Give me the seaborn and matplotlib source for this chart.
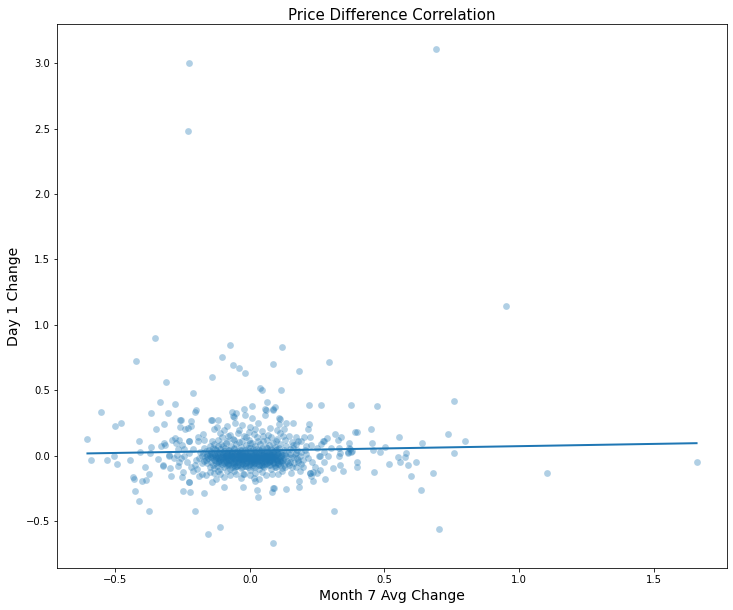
import matplotlib
matplotlib.use('Agg')
import matplotlib.pyplot as plt
import pandas as pd
import seaborn as sns

# values as (month 7 avg change, day 1 change)
outliers = [(-0.225, 3.0), (-0.23, 2.48), (0.69, 3.11), (0.95, 1.14), (1.66, -0.05), (1.105, -0.13),
            (0.759, 0.42), (0.085, -0.67), (0.703, -0.563), (0.312, -0.424), (-0.155, -0.60), (-0.11, -0.548)]

left_points = [(-0.352, 0.90), (-0.422, 0.727), (-0.311, 0.566), (-0.21, 0.482), (-0.14, 0.604), (-0.103, 0.757),
               (-0.073, 0.849), (-0.552, 0.337), (-0.50, 0.23), (-0.481, 0.246), (-0.604, 0.124), (-0.589, -0.037),
               (-0.53, -0.037), (-0.504, -0.006), (-0.496, -0.067), (-0.444, -0.037), (-0.411, 0.108), (-0.407, 0.024),
               (-0.366, 0.063), (-0.37, 0.017), (-0.389, -0.09), (-0.374, -0.143), (-0.433, -0.166), (-0.43, -0.179),
               (-0.40, -0.197), (-0.385, -0.189), (-0.426, -0.273), (-0.411, -0.35), (-0.374, -0.426), (-0.203, -0.426),
               (-0.17, -0.289), (-0.248, -0.273), (-0.222, -0.281), (-0.225, -0.20), (-0.226, -0.205), (-0.292, -0.159),
               (-0.251, -0.166), (-0.248, -0.128), (-0.296, -0.098), (-0.322, -0.083), (-0.322, -0.075), (-0.266, -0.083),
               (-0.34, -0.029), (-0.30, 0.0), (-0.302, 0.005), (-0.281, -0.021), (-0.263, -0.052), (-0.272, 0.003),
               (-0.245, 0.0), (-0.258, -0.02), (-0.329, 0.07), (-0.318, 0.10), (-0.315, 0.078), (-0.288, 0.116),
               (-0.277, 0.131), (-0.274, 0.093), (-0.263, 0.116), (-0.251, 0.078), (-0.266, 0.047), (-0.244, 0.047),
               (-0.225, 0.111), (-0.228, 0.115), (-0.192, 0.146), (-0.176, 0.162), (-0.17, 0.116), (-0.192, 0.108),
               (-0.14, 0.108), (-0.348, 0.207), (-0.318, 0.238), (-0.366, 0.322), (-0.333, 0.406), (-0.303, 0.322),
               (-0.277, 0.398), (-0.259, 0.215), (-0.26, 0.269), (-0.258, 0.275), (-0.24, 0.20), (-0.229, 0.208),
               (-0.218, 0.223), (-0.218, 0.261), (-0.203, 0.33), (-0.199, 0.345), (-0.144, 0.276), (-0.142, 0.27),
               (-0.118, 0.269), (-0.133, 0.20), (-0.121, 0.215), (-0.095, 0.192), (-0.084, 0.23), (-0.08, 0.15),
               (-0.21, -0.12), (-0.195, -0.10), (-0.18, -0.14), (-0.206, -0.07), (-0.19, -0.155), (-0.22, -0.09),
               (-0.165, -0.15), (-0.15, -0.125), (-0.21, 0.05), (-0.225, 0.02), (-0.20, -0.03), (-0.235, -0.05)]

top_points = [(-0.062, 0.689), (-0.04, 0.666), (-0.017, 0.635), (0.12, 0.834), (0.087, 0.704), (0.183, 0.65),
              (0.294, 0.719), (0.038, 0.52), (0.046, 0.505), (0.116, 0.498), (0.009, 0.383), (0.064, 0.406),
              (0.22, 0.39), (0.265, 0.39), (0.376, 0.39), (-0.021, 0.36), (-0.067, 0.337), (-0.051, 0.322),
              (-0.062, 0.299), (-0.06, 0.293), (-0.017, 0.307), (0.057, 0.355), (0.059, 0.345), (0.094, 0.368),
              (0.087, 0.353), (0.084, 0.35), (0.057, 0.314), (0.109, 0.284), (0.112, 0.278), (0.009, 0.284),
              (0.109, 0.24), (0.135, 0.253), (0.161, 0.253), (0.22, 0.238), (0.217, 0.20), (0.224, 0.146),
              (-0.055, 0.25), (-0.03, 0.235), (0.0, 0.22), (0.03, 0.25), (-0.005, 0.18), (0.02, 0.205),
              (0.045, 0.19), (0.075, 0.21), (0.10, 0.195), (0.125, 0.20), (-0.11, 0.17), (-0.04, 0.195)]

right_points = [(0.317, 0.162), (0.339, 0.146), (0.328, 0.116), (0.287, 0.131), (0.272, 0.108), (0.275, 0.112),
                (0.265, 0.085), (0.369, 0.10), (0.391, 0.177), (0.398, 0.177), (0.179, 0.108), (0.209, 0.07),
                (0.228, 0.078), (0.25, 0.055), (0.302, 0.055), (0.332, 0.055), (0.365, 0.024), (0.38, 0.032),
                (0.332, -0.006), (0.276, 0.024), (0.291, -0.006), (0.276, -0.052), (0.257, -0.006), (0.26, 0.0),
                (0.309, -0.098), (0.335, -0.075), (0.346, -0.121), (0.398, -0.052), (0.398, -0.09), (0.28, -0.182),
                (0.261, -0.113), (0.25, -0.136), (0.224, -0.136), (0.222, -0.13), (0.235, -0.128), (0.235, -0.197),
                (0.228, -0.159), (0.183, -0.197), (0.183, -0.243), (0.135, -0.258), (0.087, -0.25), (0.09, -0.245),
                (0.083, -0.281), (0.083, -0.144), (0.105, -0.144), (0.12, -0.121), (0.153, -0.136), (0.187, -0.121),
                (0.198, -0.09), (0.179, -0.052), (0.198, -0.037), (0.231, -0.052), (0.473, 0.376), (0.45, 0.20),
                (0.554, 0.139), (0.736, 0.169), (0.80, 0.108), (0.64, 0.093), (0.759, 0.017), (0.454, 0.10),
                (0.502, 0.063), (0.458, 0.04), (0.484, 0.024), (0.369, 0.055), (0.371, 0.05), (0.365, 0.017),
                (0.376, 0.024), (0.334, 0.019), (0.462, -0.128), (0.517, -0.067), (0.551, -0.014), (0.558, -0.052),
                (0.577, -0.014), (0.58, 0.017), (0.588, -0.075), (0.618, -0.052), (0.599, -0.159), (0.681, -0.136),
                (0.636, -0.266), (0.16, 0.06), (0.19, 0.03), (0.21, 0.01), (0.175, -0.015), (0.215, -0.02),
                (0.155, -0.09), (0.17, 0.085), (0.24, -0.09), (0.205, 0.045)]

bottom_points = [(-0.025, -0.243), (-0.095, -0.243), (-0.14, -0.205), (-0.125, -0.182), (0.027, -0.266), (0.031, -0.319),
                 (0.02, -0.197), (-0.025, -0.141), (-0.022, -0.137), (-0.073, -0.151), (-0.051, -0.144), (-0.095, -0.166),
                 (-0.11, -0.144), (-0.085, -0.12), (-0.06, -0.115), (-0.035, -0.17), (0.0, -0.15), (0.02, -0.135),
                 (0.045, -0.125), (0.06, -0.15), (0.015, -0.17), (-0.12, -0.115), (-0.135, -0.13), (0.035, -0.18)]

core_points = [
    (-0.175, 0.02), (-0.168, -0.01), (-0.172, -0.04), (-0.165, 0.035), (-0.16, -0.06), (-0.158, 0.01), (-0.155, -0.02), (-0.152, 0.045),
    (-0.15, -0.085), (-0.148, 0.0), (-0.146, -0.045), (-0.143, 0.03), (-0.14, -0.015), (-0.138, 0.06), (-0.136, -0.07), (-0.134, -0.095),
    (-0.132, 0.015), (-0.13, -0.03), (-0.128, 0.04), (-0.126, -0.055), (-0.124, 0.005), (-0.122, -0.08), (-0.12, 0.075), (-0.118, -0.02),
    (-0.116, 0.025), (-0.114, -0.04), (-0.112, 0.05), (-0.11, -0.105), (-0.108, -0.01), (-0.106, 0.09), (-0.104, -0.065), (-0.102, 0.012),
    (-0.1, -0.03), (-0.098, 0.035), (-0.096, -0.085), (-0.094, 0.0), (-0.092, 0.06), (-0.09, -0.05), (-0.088, 0.02), (-0.086, -0.015),
    (-0.084, 0.11), (-0.082, -0.075), (-0.08, 0.042), (-0.078, -0.035), (-0.076, 0.008), (-0.074, -0.1), (-0.072, 0.07), (-0.07, -0.02),
    (-0.068, 0.028), (-0.066, -0.058), (-0.064, 0.13), (-0.062, -0.005), (-0.06, 0.05), (-0.058, -0.042), (-0.056, -0.09), (-0.054, 0.018),
    (-0.052, 0.085), (-0.05, -0.028), (-0.048, 0.038), (-0.046, -0.07), (-0.044, 0.003), (-0.042, 0.105), (-0.04, -0.052), (-0.038, 0.022),
    (-0.036, -0.012), (-0.034, 0.065), (-0.032, -0.095), (-0.03, -0.035), (-0.028, 0.045), (-0.026, 0.0), (-0.024, -0.062), (-0.022, 0.15),
    (-0.02, 0.025), (-0.018, -0.02), (-0.016, 0.08), (-0.014, -0.08), (-0.012, 0.01), (-0.01, -0.045), (-0.008, 0.055), (-0.006, -0.005),
    (-0.004, 0.12), (-0.002, -0.03), (0.0, 0.035), (0.002, -0.11), (0.004, -0.06), (0.006, 0.015), (0.008, 0.095), (0.01, -0.018),
    (0.012, 0.048), (0.014, -0.04), (0.016, 0.005), (0.018, -0.085), (0.02, 0.07), (0.022, -0.025), (0.024, 0.028), (0.026, -0.055),
    (0.028, 0.14), (0.03, -0.008), (0.032, 0.04), (0.034, -0.1), (0.036, -0.035), (0.038, 0.085), (0.04, 0.012), (0.042, -0.068),
    (0.044, 0.055), (0.046, -0.015), (0.048, 0.11), (0.05, -0.045), (0.052, 0.022), (0.054, -0.09), (0.056, 0.0), (0.058, 0.065),
    (0.06, -0.03), (0.062, 0.035), (0.064, -0.06), (0.066, 0.16), (0.068, -0.01), (0.07, 0.08), (0.072, -0.075), (0.074, 0.018),
    (0.076, -0.04), (0.078, 0.05), (0.08, -0.105), (0.082, 0.005), (0.084, 0.1), (0.086, -0.022), (0.088, 0.03), (0.09, -0.055),
    (0.092, 0.068), (0.094, -0.01), (0.096, -0.085), (0.098, 0.04), (0.1, 0.125), (0.102, -0.035), (0.104, 0.012), (0.106, -0.065),
    (0.108, 0.058), (0.11, -0.015), (0.112, 0.09), (0.114, -0.048), (0.116, 0.025), (0.118, -0.095), (0.12, 0.002), (0.122, 0.15),
    (0.124, -0.03), (0.126, 0.045), (0.128, -0.07), (0.13, 0.01), (0.134, 0.075), (0.138, -0.04), (0.142, 0.02), (0.146, -0.075),
    (0.15, 0.05), (0.154, -0.02), (0.158, 0.105), (0.162, -0.055), (0.166, 0.012), (0.17, -0.09), (0.175, 0.04), (0.18, -0.03),
    (-0.14, 0.02), (-0.125, -0.01), (-0.11, -0.025), (-0.105, 0.03), (-0.095, -0.01), (-0.09, -0.035), (-0.085, 0.005), (-0.08, -0.055),
    (-0.075, 0.015), (-0.07, -0.035), (-0.065, -0.012), (-0.06, -0.07), (-0.055, 0.028), (-0.05, -0.05), (-0.045, -0.015), (-0.04, 0.01),
    (-0.035, -0.04), (-0.03, 0.015), (-0.025, -0.025), (-0.02, -0.06), (-0.015, 0.005), (-0.01, -0.02), (-0.005, -0.07), (0.0, -0.01),
    (0.005, -0.035), (0.01, 0.012), (0.015, -0.055), (0.02, -0.015), (0.025, 0.0), (0.03, -0.042), (0.035, 0.018), (0.04, -0.025),
    (0.045, -0.07), (0.05, 0.002), (0.055, -0.038), (0.06, 0.018), (0.065, -0.012), (0.07, -0.05), (0.075, 0.0), (0.08, -0.03),
    (0.085, -0.06), (0.09, 0.01), (0.095, -0.025), (0.1, -0.045), (0.105, 0.02), (0.11, -0.07), (0.115, -0.005), (0.12, -0.04),
    (-0.13, 0.05), (-0.115, -0.06), (-0.1, 0.07), (-0.088, -0.07), (-0.078, 0.045), (-0.068, -0.09), (-0.058, 0.06), (-0.048, -0.08),
    (-0.038, 0.042), (-0.028, -0.085), (-0.018, 0.04), (-0.008, -0.09), (0.002, 0.055), (0.012, -0.075), (0.022, 0.05), (0.032, -0.07),
    (0.042, 0.045), (0.052, -0.065), (0.062, 0.06), (0.072, -0.025), (0.082, 0.04), (0.092, -0.09), (0.102, 0.05), (0.112, -0.03),
    (-0.15, 0.07), (-0.135, 0.09), (-0.12, 0.12), (-0.105, 0.14), (-0.09, 0.1), (-0.075, 0.16), (-0.06, 0.12), (-0.045, 0.17),
    (-0.03, 0.11), (-0.015, 0.14), (0.0, 0.1), (0.015, 0.165), (0.03, 0.115), (0.05, 0.15), (0.065, 0.12), (0.08, 0.14),
    (0.095, 0.11), (0.11, 0.17), (0.13, 0.12), (0.145, 0.15), (0.16, 0.08), (0.17, 0.14), (0.19, 0.11), (0.2, 0.14)]

# the dark middle of the cloud
dense_points = [
    (-0.145, -0.012), (-0.14, 0.005), (-0.135, -0.035), (-0.13, 0.0), (-0.127, -0.018), (-0.123, 0.02), (-0.12, -0.05), (-0.117, 0.008),
    (-0.113, -0.03), (-0.11, 0.018), (-0.107, -0.045), (-0.104, -0.012), (-0.1, 0.01), (-0.098, -0.06), (-0.095, 0.022), (-0.092, -0.022),
    (-0.089, -0.042), (-0.086, 0.012), (-0.083, -0.065), (-0.08, -0.008), (-0.078, 0.028), (-0.075, -0.03), (-0.073, -0.075), (-0.07, 0.0),
    (-0.068, -0.045), (-0.065, 0.02), (-0.063, -0.022), (-0.06, -0.055), (-0.058, 0.008), (-0.055, -0.035), (-0.053, -0.08), (-0.05, 0.015),
    (-0.048, -0.012), (-0.045, -0.048), (-0.043, 0.03), (-0.04, -0.028), (-0.038, -0.07), (-0.035, 0.005), (-0.033, -0.018), (-0.03, -0.055),
    (-0.028, 0.02), (-0.025, -0.04), (-0.023, -0.003), (-0.02, -0.078), (-0.018, 0.012), (-0.015, -0.03), (-0.013, -0.055), (-0.01, 0.025),
    (-0.008, -0.012), (-0.005, -0.042), (-0.003, 0.008), (0.0, -0.065), (0.002, -0.02), (0.005, 0.018), (0.007, -0.048), (0.01, -0.005),
    (0.012, -0.085), (0.015, 0.028), (0.017, -0.03), (0.02, -0.06), (0.022, 0.006), (0.025, -0.018), (0.027, -0.042), (0.03, 0.02),
    (0.032, -0.072), (0.035, -0.008), (0.037, -0.03), (0.04, 0.032), (0.042, -0.052), (0.045, 0.005), (0.047, -0.02), (0.05, -0.078),
    (0.052, 0.015), (0.055, -0.04), (0.057, -0.006), (0.06, -0.062), (0.062, 0.025), (0.065, -0.028), (0.067, 0.004), (0.07, -0.045),
    (0.072, 0.018), (0.075, -0.07), (0.077, -0.014), (0.08, 0.01), (0.082, -0.035), (0.085, 0.025), (0.087, -0.05), (0.09, -0.012),
    (0.093, -0.075), (0.096, 0.008), (0.099, -0.03), (0.102, 0.03), (0.105, -0.055), (0.108, -0.006), (0.112, -0.04), (0.116, 0.012),
    (-0.12, -0.008), (-0.102, -0.022), (-0.09, 0.0), (-0.082, -0.025), (-0.072, 0.012), (-0.066, -0.005), (-0.056, -0.015), (-0.052, 0.0),
    (-0.046, -0.032), (-0.042, 0.012), (-0.036, -0.025), (-0.032, 0.0), (-0.026, -0.012), (-0.022, -0.035), (-0.017, 0.0), (-0.012, -0.022),
    (-0.007, 0.005), (-0.002, -0.015), (0.003, -0.04), (0.008, 0.0), (0.013, -0.025), (0.018, 0.01), (0.023, -0.035), (0.028, -0.01),
    (0.033, 0.005), (0.038, -0.018), (0.043, -0.03), (0.048, 0.012), (0.053, -0.012), (0.058, -0.028), (0.063, 0.003), (0.068, -0.02),
    (0.073, -0.035), (0.078, 0.005), (0.083, -0.012), (0.088, -0.025), (0.094, 0.0), (0.1, -0.015), (-0.16, 0.0), (-0.15, 0.015),
    (-0.165, -0.03), (-0.178, 0.0), (-0.185, 0.03), (-0.19, -0.02), (-0.18, -0.06), (-0.17, 0.06), (0.125, -0.015), (0.135, 0.0),
    (0.14, -0.055), (0.15, 0.015), (0.16, -0.01), (0.17, 0.02), (0.185, 0.0), (0.13, -0.085), (0.15, -0.05), (0.19, -0.065)]

all_groups = [outliers, left_points, top_points, right_points, bottom_points, core_points, dense_points]
month7_change = [p[0] for group in all_groups for p in group]
day1_change = [p[1] for group in all_groups for p in group]

df = pd.DataFrame({'month7': month7_change, 'day1': day1_change})

fig = plt.figure(figsize=(733 / 72, 610 / 72), dpi=72)
ax = fig.add_axes([57 / 733, 1 - 568 / 610, 670 / 733, 544 / 610])
sns.regplot(x='month7', y='day1', data=df, ci=None, ax=ax,
            scatter_kws={'alpha': 0.35, 's': 46, 'linewidths': 0}, line_kws={'linewidth': 2})
ax.set_title('Price Difference Correlation', fontsize=15, pad=4)
ax.set_xlabel('Month 7 Avg Change', fontsize=14)
ax.set_ylabel('Day 1 Change', fontsize=14, labelpad=5)

fig.savefig('out.png', dpi=72)
